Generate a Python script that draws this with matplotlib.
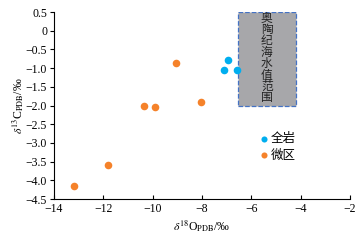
import matplotlib
matplotlib.use("Agg")
import matplotlib.pyplot as plt
from matplotlib.patches import Rectangle

plt.rcParams['font.family'] = ['Liberation Serif', 'Noto Sans CJK SC']
plt.rcParams['mathtext.fontset'] = 'stix'
plt.rcParams['font.size'] = 8.5

# whole rock
whole_o = [-6.95, -7.1, -6.6]
whole_c = [-0.78, -1.06, -1.05]
# micro-area
micro_o = [-13.2, -11.8, -10.35, -9.9, -9.05, -8.05]
micro_c = [-4.14, -3.59, -2.02, -2.05, -0.86, -1.90]
# Ordovician seawater range
sea_o = [-6.55, -4.2]
sea_c = [-2.0, 0.5]

blue = '#00AEEF'
orange = '#F5822A'

fig = plt.figure(figsize=(3.61, 2.44), dpi=100)
ax = fig.add_axes([0.1496, 0.1844, 0.82, 0.7664])

ax.add_patch(Rectangle((sea_o[0], sea_c[0]), sea_o[1] - sea_o[0], sea_c[1] - sea_c[0],
                       facecolor='#A7A7AA', edgecolor='#4472C4', linestyle='--', linewidth=0.9, zorder=1))
ax.text((sea_o[0] + sea_o[1]) / 2, sea_c[1] - 0.02, '\n'.join('奥陶纪海水值范围'),
        ha='center', va='top', fontsize=8.5, linespacing=0.93, color='#222222', zorder=2)

ax.scatter(whole_o, whole_c, s=30, color=blue, label='全岩', zorder=3, linewidths=0)
ax.scatter(micro_o, micro_c, s=30, color=orange, label='微区', zorder=3, linewidths=0)

ax.set_xlim(-14, -2)
ax.set_ylim(-4.5, 0.5)
ax.set_xticks(range(-14, -1, 2))
ax.set_yticks([0.5, 0, -0.5, -1.0, -1.5, -2.0, -2.5, -3.0, -3.5, -4.0, -4.5])
ax.set_yticklabels(['0.5', '0', '−0.5', '−1.0', '−1.5', '−2.0', '−2.5', '−3.0', '−3.5', '−4.0', '−4.5'])
ax.tick_params(axis='x', direction='in', length=3, width=0.8, pad=3)
ax.tick_params(axis='y', direction='out', length=3, width=0.8, pad=2)
for s in ['top', 'right']:
    ax.spines[s].set_visible(False)
for s in ['left', 'bottom']:
    ax.spines[s].set_linewidth(0.8)

ax.set_xlabel(r'$\delta^{18}$O$_{\mathrm{PDB}}$/‰', labelpad=2)
ax.set_ylabel(r'$\delta^{13}$C$_{\mathrm{PDB}}$/‰', labelpad=0)

ax.legend(loc='upper left', bbox_to_anchor=(0.67, 0.385), frameon=False, handletextpad=0.2,
          handlelength=0.8, labelspacing=0.35, markerscale=0.8, fontsize=9, borderpad=0)

fig.savefig('out.png', dpi=100)
